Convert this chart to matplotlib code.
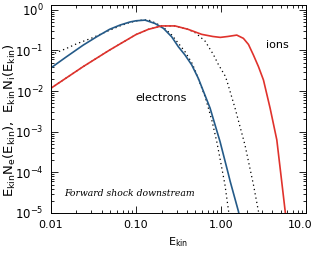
import numpy as np
import matplotlib
matplotlib.use('Agg')
import matplotlib.pyplot as plt
from matplotlib.ticker import FixedLocator, FixedFormatter, LogLocator, NullFormatter
from matplotlib.transforms import ScaledTranslation

# electrons, simulation
E_el = [0.01, 0.015, 0.024, 0.035, 0.049, 0.065, 0.085, 0.1, 0.128, 0.167, 0.21, 0.263,
        0.315, 0.377, 0.452, 0.54, 0.743, 0.973, 1.22, 1.28, 1.6, 1.65]
N_el = [0.037, 0.068, 0.135, 0.22, 0.33, 0.42, 0.5, 0.535, 0.556, 0.46, 0.35, 0.216,
        0.123, 0.077, 0.044, 0.0206, 3.8e-3, 5.7e-4, 9e-5, 6e-5, 1.1e-5, 8e-6]
# electrons, Maxwellian fit
E_el_mx = [0.01, 0.015, 0.02, 0.03, 0.045, 0.065, 0.085, 0.11, 0.14, 0.17, 0.21, 0.263,
           0.315, 0.377, 0.452, 0.494, 0.65, 0.778, 0.89, 1.0, 1.11, 1.22, 1.26]
N_el_mx = [0.078, 0.11, 0.145, 0.2, 0.29, 0.4, 0.49, 0.55, 0.565, 0.47, 0.37, 0.24,
           0.15, 0.093, 0.05, 0.033, 7.2e-3, 1.94e-3, 5.7e-4, 1.6e-4, 5e-5, 1.2e-5, 7e-6]
# ions, simulation
E_ion = [0.01, 0.024, 0.049, 0.1, 0.14, 0.2, 0.288, 0.41, 0.593, 0.8, 0.98, 1.2, 1.53,
         1.83, 2.1, 2.4, 2.75, 3.15, 3.77, 4.52, 5.08, 5.7, 5.8]
N_ion = [0.0117, 0.04, 0.102, 0.245, 0.33, 0.4, 0.4, 0.33, 0.248, 0.22, 0.209, 0.22, 0.238,
         0.198, 0.14, 0.077, 0.04, 0.0187, 3.8e-3, 6.3e-4, 7.9e-5, 1e-5, 8e-6]
# ions, Maxwellian fit
E_ion_mx = [0.01, 0.024, 0.049, 0.1, 0.14, 0.2, 0.288, 0.41, 0.5, 0.648, 0.81, 0.93,
            1.11, 1.17, 1.46, 1.91, 2.4, 2.75, 2.8]
N_ion_mx = [0.0117, 0.04, 0.102, 0.245, 0.33, 0.4, 0.4, 0.33, 0.27, 0.17, 0.08, 0.045,
            0.024, 0.018, 3.8e-3, 4.7e-4, 5e-5, 1.1e-5, 8e-6]

xticks = [0.01, 0.1, 1.0, 10.0]
xticklabels = ['0.01', '0.10', '1.00', '10.0']
yticks = [1e-5, 1e-4, 1e-3, 1e-2, 1e-1, 1e0]
yticklabels = [r'$10^{-5}$', r'$10^{-4}$', r'$10^{-3}$', r'$10^{-2}$', r'$10^{-1}$', r'$10^{0}$']

blue = '#245a88'
red = '#e0322c'

fig = plt.figure(figsize=(3.14, 2.56), dpi=100)
ax = fig.add_axes([0.162, 0.168, 0.813, 0.812])

ax.plot(E_el_mx, N_el_mx, color='black', lw=0.9, ls=(0, (1, 2.5)))
ax.plot(E_ion_mx, N_ion_mx, color='black', lw=0.9, ls=(0, (1, 2.5)))
ax.plot(E_el, N_el, color=blue, lw=1.2)
ax.plot(E_ion, N_ion, color=red, lw=1.2)

ax.set_xscale('log')
ax.set_yscale('log')
ax.set_xlim(0.01, 10.0)
ax.set_ylim(1e-5, 1.3)

ax.xaxis.set_major_locator(FixedLocator(xticks))
ax.xaxis.set_major_formatter(FixedFormatter(xticklabels))
ax.yaxis.set_major_locator(FixedLocator(yticks))
ax.yaxis.set_major_formatter(FixedFormatter(yticklabels))
ax.xaxis.set_minor_locator(LogLocator(base=10, subs=np.arange(2, 10)))
ax.yaxis.set_minor_locator(LogLocator(base=10, subs=np.arange(2, 10), numticks=20))
ax.xaxis.set_minor_formatter(NullFormatter())
ax.yaxis.set_minor_formatter(NullFormatter())

ax.tick_params(which='both', direction='in', top=True, right=True, width=0.6)
ax.tick_params(axis='x', labelsize=8)
ax.tick_params(axis='y', labelsize=8.5)
ax.tick_params(which='major', length=5, pad=5)
ax.tick_params(which='minor', length=2.5)
for s in ax.spines.values():
    s.set_linewidth(0.7)

ax.set_xlabel(r'E$_{\rm kin}$', fontsize=8, labelpad=4)
ax.set_ylabel(r'E$_{\rm kin}$N$_{\rm e}$(E$_{\rm kin}$),  E$_{\rm kin}$N$_{\rm i}$(E$_{\rm kin}$)',
              fontsize=9.5)
ax.yaxis.set_label_coords(-0.13, 0.447)

ax.text(0.197, 6.7e-3, 'electrons', fontsize=8, ha='center', va='center')
ax.text(4.56, 0.135, 'ions', fontsize=8, ha='center', va='center')
ax.text(0.0145, 3e-5, 'Forward shock downstream', fontsize=6.7, family='DejaVu Serif',
        style='italic', ha='left', va='center')

# pull the last x label in a little so it stays inside the figure
fig.canvas.draw()
last = ax.xaxis.get_major_ticks()[-1].label1
last.set_transform(last.get_transform() + ScaledTranslation(-4 / 72, 0, fig.dpi_scale_trans))

fig.savefig('out.png', dpi=100)
